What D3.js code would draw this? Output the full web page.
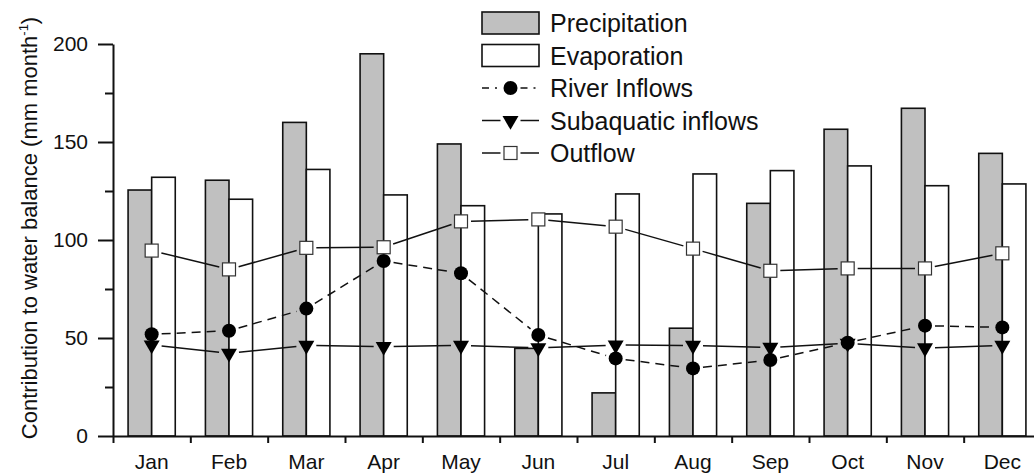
<!DOCTYPE html>
<html>
<head>
<meta charset="utf-8">
<script src="https://cdn.jsdelivr.net/npm/d3@7"></script>
<style>
  body { margin: 0; background: #fff; }
  text { font-family: "Liberation Sans", Arial, sans-serif; fill: #111; }
</style>
</head>
<body>
<div class="chart"></div>
<script>
// data (mm month-1)
const months = ["Jan", "Feb", "Mar", "Apr", "May", "Jun", "Jul", "Aug", "Sep", "Oct", "Nov", "Dec"];
const precipitation = [125.5, 130.5, 160, 195, 149, 44.7, 22, 55, 118.7, 156.5, 167.2, 144.2];
const evaporation = [132, 120.8, 136, 123, 117.5, 113.3, 123.5, 133.7, 135.4, 137.8, 127.7, 128.6];
const riverInflows = [51.9, 53.7, 65, 89.3, 83, 51.5, 39.6, 34.5, 38.8, 47.6, 56.3, 55.4];
const subaquaticInflows = [46.4, 42.2, 46.2, 45.6, 46.2, 45, 46.4, 46.2, 45.2, 47.3, 44.9, 46.2];
const outflow = [94.6, 85, 96, 96.3, 109.5, 110.5, 106.8, 95.6, 84.3, 85.5, 85.5, 93.2];
const yTicks = [0, 50, 100, 150, 200];
const yMinorTicks = [25, 75, 125, 175];

let width = 1034,
    height = 475,
    plotLeft = 113,
    plotRight = 1041,
    plotTop = 44,
    plotBottom = 436;

const svg = d3.select(".chart")
  .append("svg")
  .attr("width", width)
  .attr("height", height);

const x = d3.scaleBand()
  .domain(months)
  .range([plotLeft, plotRight])
  .paddingInner(0.39)
  .paddingOuter(0.195);

// boundaries between months, for the x ticks
const xb = d3.scaleLinear().domain([0, months.length]).range([plotLeft, plotRight]);

const y = d3.scaleLinear().domain([0, 200]).range([plotBottom, plotTop]);

const cx = m => x(m) + x.bandwidth() / 2;

// bars
const bw = x.bandwidth() / 2;
svg.append("g").selectAll("rect")
  .data(months)
  .enter()
  .append("rect")
  .attr("x", d => x(d))
  .attr("y", (d, i) => y(precipitation[i]))
  .attr("width", bw)
  .attr("height", (d, i) => y(0) - y(precipitation[i]))
  .attr("fill", "#c0c0c0")
  .attr("stroke", "#111")
  .attr("stroke-width", 1.6);

svg.append("g").selectAll("rect")
  .data(months)
  .enter()
  .append("rect")
  .attr("x", d => x(d) + bw)
  .attr("y", (d, i) => y(evaporation[i]))
  .attr("width", bw)
  .attr("height", (d, i) => y(0) - y(evaporation[i]))
  .attr("fill", "#fff")
  .attr("stroke", "#111")
  .attr("stroke-width", 1.6);

// lines with a small gap around each marker
function gappedLine(values, dash) {
  const pts = months.map((m, i) => [cx(m), y(values[i])]);
  const gap = 10;
  const segs = [];
  for (let i = 0; i < pts.length - 1; i++) {
    const [x1, y1] = pts[i], [x2, y2] = pts[i + 1];
    const len = Math.hypot(x2 - x1, y2 - y1);
    const ux = (x2 - x1) / len, uy = (y2 - y1) / len;
    segs.push([x1 + ux * gap, y1 + uy * gap, x2 - ux * gap, y2 - uy * gap]);
  }
  svg.append("g").selectAll("line")
    .data(segs)
    .enter()
    .append("line")
    .attr("x1", d => d[0]).attr("y1", d => d[1])
    .attr("x2", d => d[2]).attr("y2", d => d[3])
    .attr("stroke", "#111")
    .attr("stroke-width", 1.5)
    .attr("stroke-dasharray", dash);
}

gappedLine(outflow, null);
gappedLine(subaquaticInflows, null);
gappedLine(riverInflows, "9,6");

const tri = d3.symbol(d3.symbolTriangle, 111);

function drawCircle(g, px, py) {
  g.append("circle").attr("cx", px).attr("cy", py).attr("r", 7).attr("fill", "#000");
}
function drawTriangle(g, px, py) {
  g.append("path").attr("d", tri())
    .attr("transform", "translate(" + px + "," + py + ") rotate(180)")
    .attr("fill", "#000");
}
function drawSquare(g, px, py) {
  g.append("rect").attr("x", px - 6.5).attr("y", py - 6.5)
    .attr("width", 13).attr("height", 13)
    .attr("fill", "#fff").attr("stroke", "#333").attr("stroke-width", 1.2);
}

const marks = svg.append("g");
months.forEach((m, i) => drawTriangle(marks, cx(m), y(subaquaticInflows[i])));
months.forEach((m, i) => drawCircle(marks, cx(m), y(riverInflows[i])));
months.forEach((m, i) => drawSquare(marks, cx(m), y(outflow[i])));

// axes
const yAxis = svg.append("g")
  .attr("transform", "translate(" + plotLeft + ",0)")
  .call(d3.axisLeft(y).tickValues(yTicks).tickSize(15).tickSizeOuter(0).tickPadding(10));
yAxis.selectAll("text").style("font-size", "21px");

svg.append("g")
  .attr("transform", "translate(" + plotLeft + ",0)")
  .call(d3.axisLeft(y).tickValues(yMinorTicks).tickSize(8).tickFormat(""))
  .select(".domain").remove();

const xAxis = svg.append("g")
  .attr("transform", "translate(0," + plotBottom + ")")
  .call(d3.axisBottom(x).tickSize(0).tickPadding(18));
xAxis.selectAll("text").style("font-size", "21px");

svg.append("g")
  .attr("transform", "translate(0," + plotBottom + ")")
  .call(d3.axisBottom(xb).tickValues(d3.range(months.length + 1)).tickSize(7).tickFormat(""))
  .select(".domain").remove();

svg.selectAll(".domain, .tick line")
  .attr("stroke", "#111")
  .attr("stroke-width", 2);
svg.selectAll(".tick text").attr("fill", "#111").style("font-family", "'Liberation Sans', Arial, sans-serif");

// y title
const title = svg.append("text")
  .attr("transform", "translate(37,228) rotate(-90)")
  .attr("text-anchor", "middle")
  .style("font-size", "22px");
title.append("tspan").text("Contribution to water balance (mm month");
title.append("tspan").attr("dy", -9).style("font-size", "13px").text("-1");
title.append("tspan").attr("dy", 9).text(")");

// legend
const lx = 482, lw = 57, tx = 550;
const rows = [23, 55.5, 88, 120.5, 153];
const lg = svg.append("g");

lg.append("rect").attr("x", lx).attr("y", rows[0] - 11).attr("width", lw).attr("height", 22)
  .attr("fill", "#c0c0c0").attr("stroke", "#111").attr("stroke-width", 1.6);
lg.append("rect").attr("x", lx).attr("y", rows[1] - 11).attr("width", lw).attr("height", 22)
  .attr("fill", "#fff").attr("stroke", "#111").attr("stroke-width", 1.6);

function legendLine(yy, dash) {
  const mid = lx + lw / 2;
  [[lx, mid - 10], [mid + 10, lx + lw]].forEach(s => {
    lg.append("line").attr("x1", s[0]).attr("x2", s[1]).attr("y1", yy).attr("y2", yy)
      .attr("stroke", "#111").attr("stroke-width", 1.5).attr("stroke-dasharray", dash);
  });
}
legendLine(rows[2], "7,6,2,6");
drawCircle(lg, lx + lw / 2, rows[2]);
legendLine(rows[3], null);
drawTriangle(lg, lx + lw / 2, rows[3]);
legendLine(rows[4], null);
drawSquare(lg, lx + lw / 2, rows[4]);

const names = ["Precipitation", "Evaporation", "River Inflows", "Subaquatic inflows", "Outflow"];
lg.selectAll("text.name")
  .data(names)
  .enter()
  .append("text")
  .attr("class", "name")
  .attr("x", tx)
  .attr("y", (d, i) => rows[i])
  .attr("dy", "0.36em")
  .style("font-size", "25px")
  .text(d => d);
</script>
</body>
</html>
